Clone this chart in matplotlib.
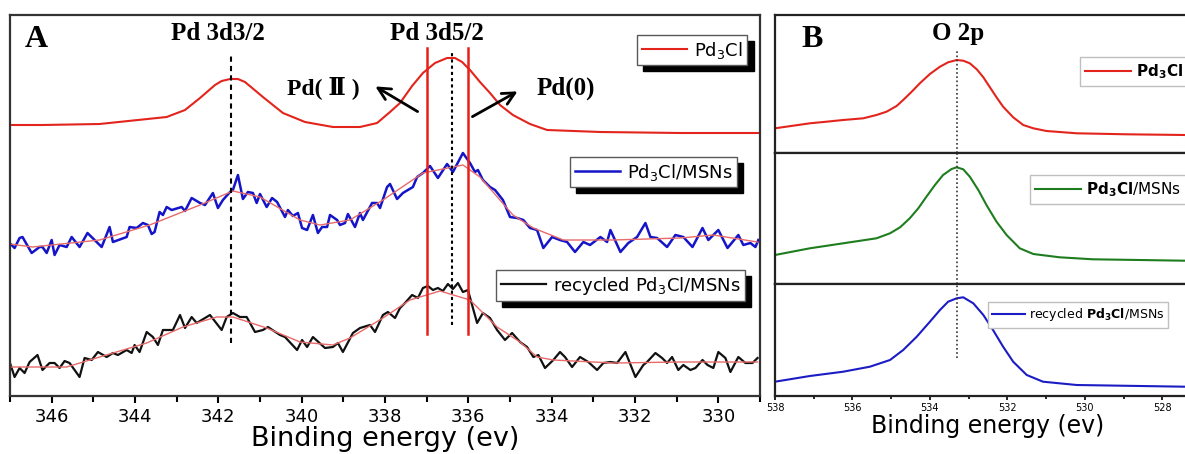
import matplotlib.pyplot as plt
from matplotlib.ticker import MultipleLocator, NullLocator

plt.rcParams['font.family'] = ['DejaVu Sans']
plt.rcParams['mathtext.default'] = 'regular'
plt.rcParams['mathtext.fontset'] = 'custom'
plt.rcParams['mathtext.rm'] = 'DejaVu Sans'
plt.rcParams['mathtext.bf'] = 'DejaVu Sans:bold'

# ---- panel A: Pd 3d ----
pd3cl_e = [347.0, 346.22, 344.85, 343.24, 342.80, 342.44, 342.08, 341.92, 341.72, 341.53,
           341.36, 340.93, 340.45, 339.92, 339.25, 338.60, 338.19, 337.88, 337.64, 337.35,
           337.09, 336.80, 336.51, 336.32, 336.15, 335.96, 335.72, 335.48, 335.24,
           334.93, 334.52, 334.11, 332.83, 330.91, 328.99]
pd3cl_i = [271, 271, 272, 279, 286, 298, 311, 315, 317, 317, 314, 299, 283, 274, 269, 269,
           273, 284, 293, 310, 323, 333, 338, 338, 334, 326, 314, 303, 291, 281, 272, 266,
           264, 263, 263]

msn_e = [347.01, 346.89, 346.77, 346.70, 346.48, 346.29, 346.22, 346.12, 346.00, 345.93,
         345.81, 345.64, 345.52, 345.33, 345.14, 344.97, 344.80, 344.61, 344.53, 344.20,
         344.13, 343.96, 343.81, 343.69, 343.60, 343.53, 343.41, 343.33, 343.24, 343.12,
         342.88, 342.80, 342.64, 342.44, 342.32, 342.13, 342.01, 341.89, 341.72, 341.65,
         341.53, 341.41, 341.29, 341.17, 341.08, 341.00, 340.84, 340.71, 340.59, 340.40,
         340.33, 340.21, 340.09, 339.99, 339.87, 339.73, 339.61, 339.51, 339.39, 339.32,
         339.15, 339.08, 338.96, 338.89, 338.72, 338.60, 338.53, 338.31, 338.19, 338.12,
         337.95, 337.88, 337.71, 337.57, 337.45, 337.33, 337.23, 337.09, 336.92, 336.73,
         336.51, 336.37, 336.13, 335.96, 335.84, 335.77, 335.65, 335.48, 335.36, 335.17,
         335.00, 334.83, 334.68, 334.52, 334.35, 334.20, 333.99, 333.80, 333.63, 333.44,
         333.24, 333.08, 332.83, 332.67, 332.59, 332.35, 332.16, 331.95, 331.75, 331.63,
         331.47, 331.23, 331.03, 330.84, 330.62, 330.38, 330.24, 330.00, 329.78, 329.52,
         329.40, 329.23, 329.11, 329.04]
msn_i = [153, 148, 158, 159, 143, 149, 149, 143, 156, 141, 151, 149, 159, 149, 163, 156,
         149, 169, 154, 159, 169, 168, 173, 171, 162, 164, 184, 181, 189, 186, 189, 185,
         198, 193, 191, 203, 188, 196, 204, 206, 221, 197, 204, 203, 193, 202, 189, 198,
         194, 179, 186, 180, 183, 168, 166, 181, 163, 169, 169, 181, 176, 171, 173, 182,
         169, 183, 176, 193, 193, 188, 209, 212, 197, 203, 206, 209, 219, 223, 230, 218,
         232, 224, 243, 233, 224, 226, 216, 209, 206, 196, 179, 178, 176, 168, 166, 148,
         159, 156, 154, 144, 154, 151, 159, 154, 166, 144, 153, 159, 173, 159, 158, 149,
         161, 159, 149, 168, 156, 166, 148, 161, 151, 153, 149, 156]
msn_fit_e = [347.0, 346.46, 344.85, 343.65, 342.44, 341.65, 341.00, 340.04, 339.56,
             338.84, 338.05, 337.09, 336.13, 335.72, 334.93, 334.44, 333.72, 332.52,
             330.91, 330.12, 329.06]
msn_fit_i = [152, 149, 156, 171, 191, 205, 199, 176, 171, 176, 196, 223, 231, 219, 181,
             168, 156, 156, 158, 161, 154]

rec_e = [347.0, 346.89, 346.77, 346.65, 346.53, 346.34, 346.22, 346.05, 345.93, 345.81,
         345.69, 345.57, 345.33, 345.21, 345.04, 344.89, 344.68, 344.53, 344.41, 344.20,
         344.08, 344.01, 343.89, 343.72, 343.57, 343.45, 343.33, 343.09, 342.92, 342.80,
         342.64, 342.52, 342.20, 341.92, 341.80, 341.65, 341.48, 341.32, 341.12, 340.93,
         340.81, 340.52, 340.40, 340.11, 339.99, 339.87, 339.73, 339.44, 339.25, 339.13,
         339.01, 338.77, 338.60, 338.36, 338.24, 338.05, 337.93, 337.76, 337.64, 337.52,
         337.35, 337.21, 337.09, 336.97, 336.85, 336.73, 336.61, 336.49, 336.37, 336.25,
         336.13, 336.01, 335.91, 335.79, 335.65, 335.48, 335.31, 335.12, 334.95, 334.76,
         334.59, 334.44, 334.32, 334.16, 333.96, 333.80, 333.68, 333.51, 333.32, 333.12,
         332.91, 332.76, 332.59, 332.43, 332.23, 331.99, 331.80, 331.71, 331.51, 331.35,
         331.23, 331.11, 330.96, 330.84, 330.67, 330.55, 330.38, 330.26, 330.12, 330.00,
         329.83, 329.71, 329.52, 329.35, 329.18, 329.06]
rec_i = [33, 19, 28, 23, 34, 41, 26, 33, 33, 28, 35, 33, 19, 38, 36, 44, 39, 43, 41, 46,
         43, 51, 44, 64, 59, 51, 66, 66, 81, 68, 79, 73, 81, 66, 79, 83, 79, 79, 64, 66,
         69, 61, 59, 46, 56, 49, 59, 48, 49, 53, 44, 63, 68, 71, 64, 81, 84, 78, 88, 93,
         101, 98, 108, 110, 106, 108, 105, 112, 107, 113, 104, 106, 91, 73, 83, 78, 66, 56,
         63, 54, 49, 39, 41, 28, 36, 44, 39, 29, 39, 34, 26, 33, 34, 33, 44, 19, 31, 34,
         43, 38, 33, 39, 26, 31, 26, 28, 36, 31, 28, 44, 38, 24, 39, 33, 33, 38]
rec_fit_e = [347.0, 345.64, 344.85, 343.72, 342.85, 342.04, 341.65, 340.84, 340.04,
             339.25, 338.84, 338.05, 337.40, 336.68, 335.96, 335.31, 334.76, 334.35,
             333.96, 332.52, 330.91, 329.06]
rec_fit_i = [29, 29, 39, 53, 69, 79, 79, 68, 54, 51, 58, 78, 96, 105, 96, 69, 54, 39, 36,
             33, 34, 34]

pd32_pos = 341.7
pd52_pos = 336.4
state_lines = [337.0, 336.0]

# ---- panel B: O 2p ----
o_pd3cl_e = [538.0, 537.53, 537.10, 536.67, 536.24, 535.72, 535.38, 535.12, 534.86,
             534.69, 534.47, 534.26, 534.00, 533.74, 533.53, 533.31, 533.14, 532.97,
             532.79, 532.62, 532.45, 532.28, 532.11, 531.85, 531.59, 531.33, 530.99,
             530.21, 528.92, 527.42, 527.0]
o_pd3cl_i = [24.7, 27.3, 29.7, 31.3, 33, 34.7, 38, 41.3, 47, 53, 61.3, 69.7, 79, 86.3,
             90.7, 93, 92.3, 89.7, 83.7, 75.7, 65.7, 55.7, 46.3, 35.7, 28, 24.7, 22, 19.7,
             18.7, 18, 18]
o_msn_e = [538.0, 537.10, 536.24, 535.38, 535.03, 534.77, 534.52, 534.30, 534.09, 533.87,
           533.66, 533.44, 533.31, 533.14, 532.97, 532.75, 532.54, 532.28, 532.02, 531.68,
           531.33, 530.65, 529.79, 527.42, 527.0]
o_msn_i = [29, 35.7, 40.7, 45.7, 50.7, 56.7, 65.7, 75.7, 87.3, 99, 109, 115, 116.7, 114.7,
           107.3, 94, 79, 62.3, 49, 35.7, 30, 26.7, 24.7, 23.3, 23.3]
o_rec_e = [538.0, 537.10, 536.24, 535.55, 535.03, 534.69, 534.34, 534.00, 533.74, 533.53,
           533.31, 533.14, 532.88, 532.62, 532.37, 532.11, 531.85, 531.50, 531.08, 530.21,
           527.42, 527.0]
o_rec_i = [14.3, 20, 24.3, 29.3, 36, 46, 59.3, 74.3, 86, 94.3, 97.7, 98.7, 92.7, 81, 66,
           49.3, 34.3, 21, 14.3, 11, 9.3, 9.3]
o2p_pos = 533.3

W, H = 1185, 454
fig = plt.figure(figsize=(W / 100, H / 100), dpi=100)


def px(x0, y0, x1, y1):
    # pixel box -> figure fraction rect
    return [x0 / W, 1 - y1 / H, (x1 - x0) / W, (y1 - y0) / H]


serif = ['Liberation Serif', 'DejaVu Serif']
shadow = {'ox': 4.5, 'oy': -4.5, 'shade': 1.0, 'alpha': 1}

# ---------- A ----------
axA = fig.add_axes(px(10, 15, 760, 396))
axA.plot(pd3cl_e, pd3cl_i, color='#e3241d', lw=1.5)
axA.plot(msn_e, msn_i, color='#1414c8', lw=1.8)
axA.plot(msn_fit_e, msn_fit_i, color='#e86a6a', lw=1.0)
axA.plot(rec_e, rec_i, color='#111111', lw=1.6)
axA.plot(rec_fit_e, rec_fit_i, color='#e86a6a', lw=1.0)

axA.plot([pd32_pos, pd32_pos], [53, 341], color='black', lw=1.5, ls=(0, (2.5, 2)))
axA.plot([pd52_pos, pd52_pos], [71, 344], color='black', lw=1.5, ls=(0, (1.5, 1.5)))
for e in state_lines:
    axA.plot([e, e], [62, 348], color='#e8201a', lw=1.8)

axA.set_xlim(347, 329)
axA.set_ylim(0, 381)
axA.xaxis.set_major_locator(MultipleLocator(2))
axA.xaxis.set_minor_locator(MultipleLocator(1))
axA.yaxis.set_major_locator(NullLocator())
axA.tick_params(axis='x', which='major', direction='out', length=5, width=1.5,
                labelsize=13, pad=4)
axA.tick_params(axis='x', which='minor', direction='out', length=4, width=1.5)
for s in axA.spines.values():
    s.set_linewidth(1.6)
    s.set_color('#333333')
axA.set_xlabel('Binding energy (ev)', fontsize=19.5, labelpad=0)

axA.text(0.035, 0.935, 'A', transform=axA.transAxes, family=serif, weight='bold',
         fontsize=23, ha='center', va='center')
axA.text(342.0, 363, 'Pd 3d3/2', family=serif, weight='bold', fontsize=18,
         ha='center', va='center')
axA.text(336.75, 363, 'Pd 3d5/2', family=serif, weight='bold', fontsize=18,
         ha='center', va='center')
axA.text(339.49, 308, 'Pd( Ⅱ )', family=serif, weight='bold', fontsize=17,
         ha='center', va='center')
axA.text(333.65, 308, 'Pd(0)', family=serif, weight='bold', fontsize=18,
         ha='center', va='center')
axA.annotate('', xy=(338.29, 311), xytext=(337.16, 283),
             arrowprops=dict(arrowstyle='->', color='black', lw=2, mutation_scale=22))
axA.annotate('', xy=(334.76, 306), xytext=(335.96, 278),
             arrowprops=dict(arrowstyle='->', color='black', lw=2, mutation_scale=22))

legA = dict(loc='upper left', bbox_transform=fig.transFigure, fancybox=False,
            edgecolor='0.35', framealpha=1, borderaxespad=0, fontsize=13,
            handlelength=2.5, handletextpad=0.4, borderpad=0.25, shadow=shadow)
l1 = axA.legend(handles=[axA.lines[0]], labels=['Pd$_3$Cl'],
                bbox_to_anchor=(637 / W, 1 - 35 / H), **legA)
axA.add_artist(l1)
l2 = axA.legend(handles=[axA.lines[1]], labels=['Pd$_3$Cl/MSNs'],
                bbox_to_anchor=(570 / W, 1 - 157 / H), **legA)
axA.add_artist(l2)
axA.legend(handles=[axA.lines[3]], labels=['recycled Pd$_3$Cl/MSNs'],
           bbox_to_anchor=(496 / W, 1 - 270 / H), **legA)

# ---------- B ----------
bx0, bx1 = 775, 1201
axB1 = fig.add_axes(px(bx0, 15, bx1, 153))
axB2 = fig.add_axes(px(bx0, 153, bx1, 284))
axB3 = fig.add_axes(px(bx0, 284, bx1, 396))

axB1.plot(o_pd3cl_e, o_pd3cl_i, color='#e3241d', lw=1.5, label='$\\mathbf{Pd_3Cl}$')
axB2.plot(o_msn_e, o_msn_i, color='#1e7d1e', lw=1.5, label='$\\mathbf{Pd_3Cl}$/MSNs')
axB3.plot(o_rec_e, o_rec_i, color='#1c1cc4', lw=1.5,
          label='recycled $\\mathbf{Pd_3Cl}$/MSNs')

axB1.plot([o2p_pos, o2p_pos], [0, 103], color='#333333', lw=1.2, ls=(0, (1, 1.5)))
axB2.plot([o2p_pos, o2p_pos], [0, 131], color='#333333', lw=1.2, ls=(0, (1, 1.5)))
axB3.plot([o2p_pos, o2p_pos], [38, 112], color='#333333', lw=1.2, ls=(0, (1, 1.5)))

for ax, top in zip([axB1, axB2, axB3], [138, 131, 112]):
    ax.set_xlim(538, 527)
    ax.set_ylim(0, top)
    ax.yaxis.set_major_locator(NullLocator())
    ax.xaxis.set_major_locator(MultipleLocator(2))
    ax.xaxis.set_minor_locator(MultipleLocator(1))
    for s in ax.spines.values():
        s.set_linewidth(1.6)
        s.set_color('#222222')
for ax in [axB1, axB2]:
    ax.tick_params(axis='x', which='both', bottom=False, labelbottom=False)
axB3.tick_params(axis='x', which='major', direction='out', length=3, width=1.2,
                 labelsize=7, pad=2)
axB3.tick_params(axis='x', which='minor', direction='out', length=2, width=1.2)
axB3.set_xlabel('Binding energy (ev)', fontsize=17, labelpad=1)

axB1.text(0.088, 0.82, 'B', transform=axB1.transAxes, family=serif, weight='bold',
          fontsize=23, ha='center', va='center')
axB1.text(533.28, 120, 'O 2p', family=serif, weight='bold', fontsize=18,
          ha='center', va='center')

legB = dict(loc='upper left', bbox_transform=fig.transFigure, fancybox=False,
            edgecolor='0.75', framealpha=1, borderaxespad=0,
            handletextpad=0.3, borderpad=0.35)
axB1.legend(bbox_to_anchor=(1080 / W, 1 - 57 / H), fontsize=11, handlelength=3, **legB)
axB2.legend(bbox_to_anchor=(1030 / W, 1 - 175 / H), fontsize=11, handlelength=3, **legB)
axB3.legend(bbox_to_anchor=(988 / W, 1 - 302 / H), fontsize=9, handlelength=2.6, **legB)

fig.savefig('out.png', dpi=100)
